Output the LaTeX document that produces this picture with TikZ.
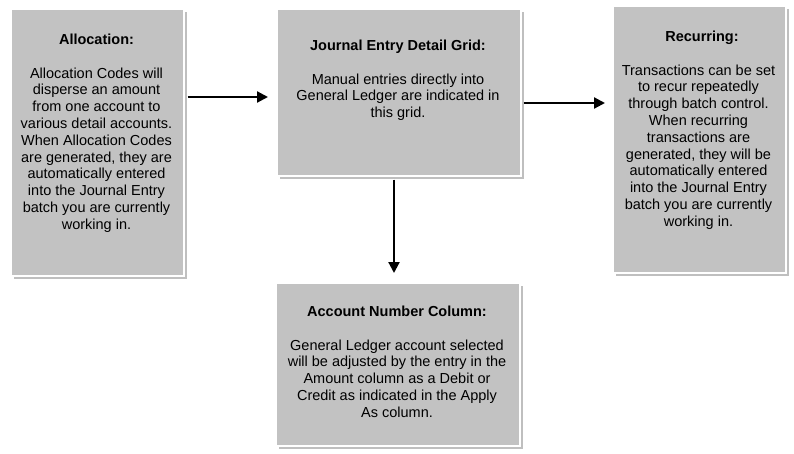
\documentclass[tikz,border=0pt]{standalone}
\usepackage{fontspec}
\setmainfont{Liberation Sans}
\usetikzlibrary{shadows,arrows.meta}
\begin{document}
\begin{tikzpicture}[x=1pt,y=-1pt,
 box/.style={draw=white,line width=1.5pt,fill=black!24,drop shadow={shadow xshift=3pt,shadow yshift=-3pt,opacity=0.5},anchor=north west,inner sep=0pt},
 txt/.style={align=center,font=\fontsize{14.5}{16.8}\selectfont,anchor=north},
 ttl/.style={font=\fontsize{14.5}{16}\selectfont\bfseries,anchor=north},
 arr/.style={-{Triangle[length=11pt,width=11pt]},line width=2.2pt}]
\useasboundingbox (0,0) rectangle (794,453);
\node[box,minimum width=173pt,minimum height=267pt] (a) at (10,8) {};
\node[box,minimum width=244pt,minimum height=167pt] (j) at (276,8) {};
\node[box,minimum width=173pt,minimum height=267pt] (r) at (612,5) {};
\node[box,minimum width=244pt,minimum height=163pt] (c) at (275,282) {};
\node[ttl] (ta) at (96.5,30) {Allocation:};
\node[txt] (ba) at (96.5,64) {Allocation Codes will\\disperse an amount\\from one account to\\various detail accounts.\\When Allocation Codes\\are generated, they are\\automatically entered\\into the Journal Entry\\batch you are currently\\working in.};
\node[ttl] (tj) at (398,36) {Journal Entry Detail Grid:};
\node[txt] (bj) at (398,70) {Manual entries directly into\\General Ledger are indicated in\\this grid.};
\node[ttl] (tr) at (702,27) {Recurring:};
\node[txt] (br) at (698.5,61) {Transactions can be set\\to recur repeatedly\\through batch control.\\When recurring\\transactions are\\generated, they will be\\automatically entered\\into the Journal Entry\\batch you are currently\\working in.};
\node[ttl] (tc) at (397,302) {Account Number Column:};
\node[txt] (bc) at (397,336) {General Ledger account selected\\will be adjusted by the entry in the\\Amount column as a Debit or\\Credit as indicated in the Apply\\As column.};
\draw[arr] (a.east|-0,97) ++(3,0) -- (268,97);
\draw[arr] (j.east|-0,103) ++(2,0) -- (605,103);
\draw[arr] (j.south-|394,0) ++(0,3) -- (394,273);
\end{tikzpicture}
\end{document}
